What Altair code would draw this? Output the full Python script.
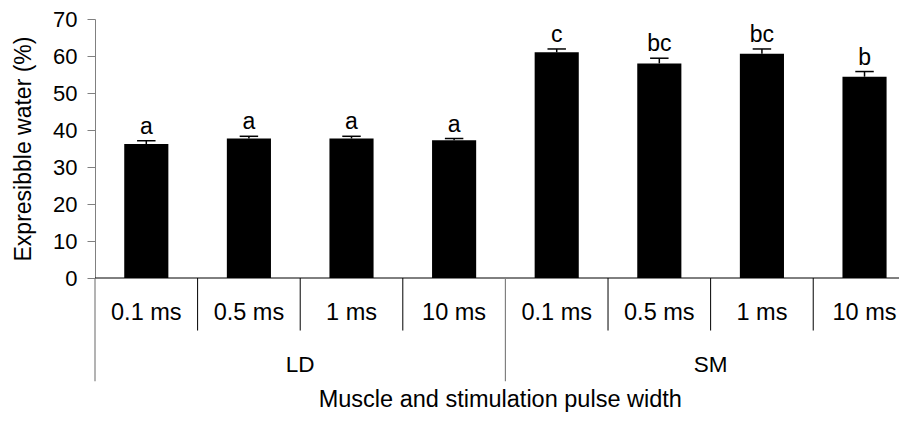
import altair as alt
import pandas as pd

# ---- data ----
pulse_widths = ["0.1 ms", "0.5 ms", "1 ms", "10 ms"]
muscles = ["LD", "SM"]
ld_means = [36.2, 37.7, 37.7, 37.2]
ld_sem = [0.9, 0.6, 0.6, 0.5]
sm_means = [61.0, 58.0, 60.6, 54.4]
sm_sem = [0.9, 1.4, 1.3, 1.4]
ld_letters = ["a", "a", "a", "a"]
sm_letters = ["c", "bc", "bc", "b"]
y_ticks = [0, 10, 20, 30, 40, 50, 60, 70]

rows = []
i = 0
for m, means, sems, lets in [("LD", ld_means, ld_sem, ld_letters),
                             ("SM", sm_means, sm_sem, sm_letters)]:
    for pw, mu, se, le in zip(pulse_widths, means, sems, lets):
        rows.append({"idx": i, "muscle": m, "pulse": pw, "mean": mu, "sem": se, "letter": le})
        i += 1
df = pd.DataFrame(rows)

groups = pd.DataFrame({"muscle": muscles, "start": [0, 4]})

FONT = "Liberation Sans"
XMAX = 7.836
xs = alt.Scale(domain=[0, XMAX], nice=False, zero=False)
ys = alt.Scale(domain=[0, 70], nice=False)

YAX = alt.Axis(values=y_ticks, tickSize=8, labelPadding=10,
               labelOverlap=False, labelFontSize=22, labelFont=FONT,
               labelColor="black", domainColor="#808080", tickColor="#808080",
               grid=False, format="d",
               title="Expresibble water (%)", titleFont=FONT, titleFontSize=23,
               titleFontWeight="normal", titleColor="black",
               titleAngle=-90, titleX=-72, titleY=129.5,
               titleAlign="center", titleBaseline="middle")


def X(f):
    return alt.X(f, scale=xs, axis=None)


def Y(f):
    return alt.Y(f, scale=ys, axis=YAX)


base = alt.Chart(df).transform_calculate(
    x0="datum.idx + 0.285",
    x1="datum.idx + 0.715",
    xc="datum.idx + 0.5",
    c0="datum.idx + 0.41",
    c1="datum.idx + 0.59",
    top="datum.mean + datum.sem",
)

bars = base.mark_bar(color="black").encode(
    x=X("x0:Q"), x2="x1:Q", y=Y("mean:Q"), y2=alt.value(259))

err = base.mark_rule(color="black", strokeWidth=1.5).encode(
    x=X("xc:Q"), y=Y("mean:Q"), y2="top:Q")
cap = base.mark_rule(color="black", strokeWidth=1.5).encode(
    x=X("c0:Q"), x2="c1:Q", y=Y("top:Q"))
letters = base.mark_text(font=FONT, fontSize=23, baseline="alphabetic", dy=-7, color="black").encode(
    x=X("xc:Q"), y=Y("top:Q"), text="letter:N")

baseline = alt.Chart(groups).transform_aggregate(count="count()").transform_calculate(
    a="0", b=str(XMAX), z="0").mark_rule(color="black", strokeWidth=1).encode(
    x=X("a:Q"), x2="b:Q", y=Y("z:Q"))

inner = base.transform_filter("datum.idx % 4 != 0").transform_calculate(
    y0="0", y1="-14.2").mark_rule(color="black", strokeWidth=1).encode(
    x=X("idx:Q"), y=Y("y0:Q"), y2="y1:Q")

outer = alt.Chart(groups).transform_calculate(y0="0", y1="-27.9").mark_rule(
    color="#808080", strokeWidth=1.2).encode(
    x=X("start:Q"), y=Y("y0:Q"), y2="y1:Q")

cat_labels = base.transform_calculate(yl="-9.45").mark_text(
    font=FONT, fontSize=23.5, baseline="middle", color="black").encode(
    x=X("xc:Q"), y=Y("yl:Q"), text="pulse:N")

grp_labels = alt.Chart(groups).transform_calculate(xg="datum.start + 2", yg="-23.4").mark_text(
    font=FONT, fontSize=22.5, baseline="middle", color="black").encode(
    x=X("xg:Q"), y=Y("yg:Q"), text="muscle:N")

xtitle = alt.Chart(groups).transform_aggregate(count="count()").transform_calculate(
    xt="3.95", yt="-33.0", t="'Muscle and stimulation pulse width'").mark_text(
    font=FONT, fontSize=23.5, baseline="middle", color="black").encode(
    x=X("xt:Q"), y=Y("yt:Q"), text="t:N")

chart = alt.layer(bars, err, cap, letters, baseline, inner, outer,
                  cat_labels, grp_labels, xtitle).properties(
    width=804, height=259,
    background="white",
    view=alt.ViewBackground(stroke="transparent", strokeWidth=0),
    autosize=alt.AutoSizeParams(type="none"),
    padding={"left": 87, "top": 11, "right": 0, "bottom": 136},
).configure_view(strokeWidth=0, stroke="transparent")

chart.save("out.html", embed_options={"renderer": "svg", "actions": False})
